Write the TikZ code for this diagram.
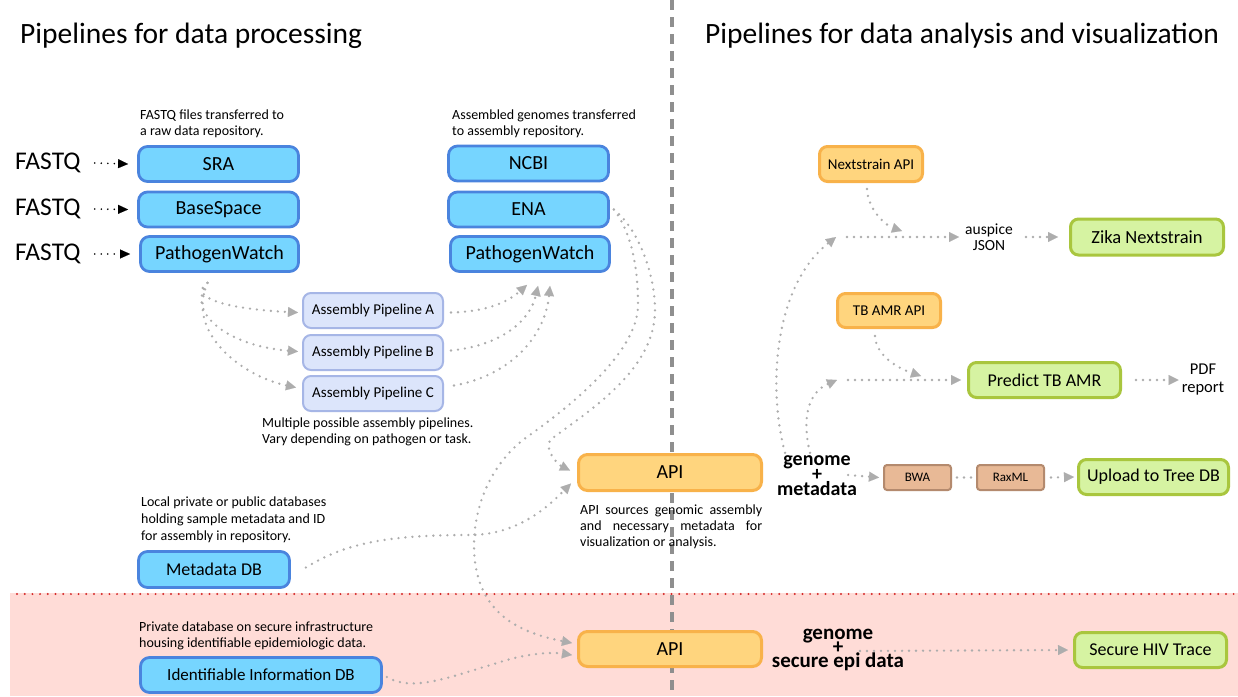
\documentclass[tikz,border=0pt]{standalone}
\usepackage{fontspec}
\setmainfont{Carlito}
\usetikzlibrary{arrows.meta}
\definecolor{bluefill}{HTML}{76D5FF}
\definecolor{blueline}{HTML}{4A84DE}
\definecolor{lavfill}{HTML}{DCE5FB}
\definecolor{lavline}{HTML}{A6B6E6}
\definecolor{orfill}{HTML}{FFD57E}
\definecolor{orline}{HTML}{F8B24A}
\definecolor{grfill}{HTML}{D6F3A2}
\definecolor{grline}{HTML}{A9C63E}
\definecolor{brfill}{HTML}{E8B996}
\definecolor{brline}{HTML}{B48A6E}
\definecolor{dotgray}{HTML}{ADADAD}
\definecolor{pinkbg}{HTML}{FFDCD7}
\definecolor{reddot}{HTML}{D42A2A}
\definecolor{divgray}{HTML}{8F8F8F}
\begin{document}
\begin{tikzpicture}[x=1pt,y=-1pt,
  box/.style={rounded corners=9pt, inner sep=0pt, align=center},
  bluebox/.style={box, draw=blueline, fill=bluefill, line width=2.8pt, minimum width=160pt, minimum height=35pt, font=\fontsize{20}{24}\selectfont},
  lavbox/.style={box, draw=lavline, fill=lavfill, line width=2pt, minimum width=140pt, minimum height=35pt, rounded corners=8pt, font=\fontsize{15}{18}\selectfont},
  orbox/.style={box, draw=orline, fill=orfill, line width=3pt},
  grbox/.style={box, draw=grline, fill=grfill, line width=3pt, minimum width=152pt, minimum height=35pt, rounded corners=8pt, font=\fontsize{18.5}{22}\selectfont},
  brbox/.style={box, draw=brline, fill=brfill, line width=2pt, minimum width=67pt, minimum height=25pt, rounded corners=3pt, font=\fontsize{13}{16}\selectfont},
  conn/.style={draw=dotgray, line width=2.6pt, line cap=round, dash pattern=on 0pt off 7pt, -{Triangle[width=10pt,length=10pt,line width=0.1pt]}},
  connplain/.style={draw=dotgray, line width=2.6pt, line cap=round, dash pattern=on 0pt off 7pt},
  blkarrow/.style={draw=black, line width=1.8pt, line cap=round, dash pattern=on 0pt off 6.5pt, -{Triangle[width=9pt,length=10pt,line width=0.1pt]}},
  captxt/.style={anchor=north west, inner sep=0pt, align=left, font=\fontsize{14}{16}\selectfont},
  fq/.style={anchor=west, inner sep=0pt, font=\fontsize{25.5}{28}\selectfont},
  lbl/.style={inner sep=2pt, align=center, font=\fontsize{15.5}{16}\selectfont},
  boldlbl/.style={inner sep=0pt, align=center},
  ttl/.style={anchor=base west, inner sep=0pt, font=\fontsize{29.5}{34}\selectfont}
]
\useasboundingbox (0,0) rectangle (1238,696);
\fill[white] (0,0) rectangle (1238,696);
\fill[pinkbg] (10,593) rectangle (1238,696);
\draw[reddot, line width=2.2pt, line cap=round, dash pattern=on 0pt off 7.7pt] (17,594) -- (1238,594);
\draw[divgray, line width=4.5pt, dash pattern=on 10pt off 7pt] (672,0) -- (672,696);

% titles
\node[ttl] (t1) at (20,43) {Pipelines for data processing};
\node[ttl] (t2) at (705,43) {Pipelines for data analysis and visualization};

% FASTQ inputs
\node[fq] (fq1) at (15,163) {FASTQ};
\node[fq] (fq2) at (15,209) {FASTQ};
\node[fq] (fq3) at (15,254) {FASTQ};

% raw repositories
\node[bluebox] (sra) at (218.5,164) {SRA};
\node[bluebox] (bs) at (218.5,209.5) {BaseSpace};
\node[bluebox, minimum width=158pt] (pwl) at (219.5,254) {PathogenWatch};
\node[bluebox] (ncbi) at (528.5,163.5) {NCBI};
\node[bluebox] (ena) at (528.5,209.5) {ENA};
\node[bluebox, minimum width=159pt] (pwr) at (530,254) {PathogenWatch};
\node[bluebox, minimum width=151pt, minimum height=36pt, font=\fontsize{18}{22}\selectfont] (meta) at (214,569.5) {Metadata DB};
\node[bluebox, minimum width=241pt, font=\fontsize{17}{20}\selectfont] (iid) at (261,675) {Identifiable Information DB};

% captions
\node[captxt] (c1) at (140,110) {FASTQ files transferred to\\a raw data repository.};
\node[captxt] (c2) at (452,110) {Assembled genomes transferred\\to assembly repository.};
\node[captxt] (c3) at (262,418) {Multiple possible assembly pipelines.\\Vary depending on pathogen or task.};
\node[captxt, font=\fontsize{14}{17}\selectfont] (c4) at (141,497) {Local private or public databases\\holding sample metadata and ID\\for assembly in repository.};
\node[captxt] (c5) at (139,622) {Private database on secure infrastructure\\housing identifiable epidemiologic data.};
\node[captxt, font=\fontsize{14}{15.8}\selectfont] (c6) at (580,505) {\makebox[182pt][s]{API sources genomic assembly}\\\makebox[182pt][s]{and necessary metadata for}\\visualization or analysis.};

% assembly pipelines
\node[lavbox] (pa) at (373,310.5) {Assembly Pipeline A};
\node[lavbox] (pb) at (373,352.5) {Assembly Pipeline B};
\node[lavbox] (pc) at (373,393.5) {Assembly Pipeline C};

% APIs
\node[orbox, minimum width=183pt, minimum height=36pt, font=\fontsize{20}{24}\selectfont] (api) at (670,472.5) {API};
\node[orbox, minimum width=183pt, minimum height=35pt, font=\fontsize{20}{24}\selectfont] (apis) at (670,649) {API};
\node[orbox, minimum width=103pt, minimum height=35pt, rounded corners=8pt, font=\fontsize{15}{18}\selectfont] (nsapi) at (871,164) {Nextstrain API};
\node[orbox, minimum width=103pt, minimum height=34pt, rounded corners=8pt, font=\fontsize{15}{18}\selectfont] (tbapi) at (889,310.5) {TB AMR API};

% analysis outputs
\node[grbox, minimum width=153pt, minimum height=36pt] (zika) at (1147,237) {Zika Nextstrain};
\node[grbox, font=\fontsize{18}{22}\selectfont] (tbamr) at (1044.5,380) {Predict TB AMR};
\node[grbox, minimum width=150pt, font=\fontsize{18}{22}\selectfont] (tree) at (1153.5,477) {Upload to Tree DB};
\node[grbox, font=\fontsize{18}{22}\selectfont] (hiv) at (1150.5,650) {Secure HIV Trace};
\node[brbox] (bwa) at (917.5,477.5) {BWA};
\node[brbox] (rax) at (1010.5,477.5) {RaxML};

% labels
\node[lbl] (json) at (989,237) {auspice\\JSON};
\node[lbl, font=\fontsize{16.5}{18}\selectfont] (pdf) at (1203,380) {PDF\\report};
\node[boldlbl, font={\fontsize{20}{15}\bfseries\selectfont\lineskiplimit=-100pt}] (gm) at (817,476) {genome\\+\\metadata};
\node[boldlbl, font={\fontsize{21}{14}\bfseries\selectfont\lineskiplimit=-100pt}] (gs) at (838,650) {genome\\+\\secure epi data};

\coordinate (j1) at (836,237);
\coordinate (j2) at (837,380);
\coordinate (n1) at (902,231);
\coordinate (n2) at (921,376);

% FASTQ arrows
\draw[blkarrow] ([xshift=14pt]fq1.east) -- ([xshift=-9pt]sra.west);
\draw[blkarrow] ([xshift=14pt]fq2.east) -- ([xshift=-9pt]bs.west);
\draw[blkarrow] ([xshift=14pt]fq3.east) -- ([xshift=-9pt]pwl.west);

% raw -> pipelines
\draw[conn] ([xshift=-12pt,yshift=-10pt]pwl.south) .. controls +(-19,13) and +(-78,-4) .. ([xshift=-4pt,yshift=-2pt]pa.west);
\draw[conn] ([xshift=-12pt,yshift=-10pt]pwl.south) .. controls +(-22,28) and +(-73,-6) .. ([xshift=-4pt,yshift=1pt]pb.west);
\draw[conn] ([xshift=-12pt,yshift=-10pt]pwl.south) .. controls +(-22,48) and +(-56,-12) .. ([xshift=-6pt,yshift=6pt]pc.west);

% pipelines -> assembly repository
\draw[conn] ([xshift=7pt,yshift=-2pt]pa.east) .. controls +(40,-1) and +(-17,15) .. ([xshift=-3pt,yshift=-12pt]pwr.south);
\draw[conn] ([xshift=7pt,yshift=2pt]pb.east) .. controls +(50,-5) and +(-8,35) .. ([xshift=8pt,yshift=-13pt]pwr.south);
\draw[conn] ([xshift=10pt,yshift=8pt]pc.east) .. controls +(57,-10) and +(-5,50) .. ([xshift=20pt,yshift=-13pt]pwr.south);

% ENA -> APIs
\draw[conn] ([xshift=4pt]ena.east) .. controls +(25,20) and +(0,-35) .. (655,310) .. controls +(0,60) and +(40,-30) .. (550,440) .. controls +(-6,12) and +(-10,-5) .. ([xshift=-7pt,yshift=2pt]api.west);
\draw[conn] ([xshift=4pt]ena.east) .. controls +(15,20) and +(0,-45) .. (638,305) .. controls +(0,50) and +(35,-25) .. (527,437) .. controls +(-35,25) and +(0,-40) .. (474,545) .. controls +(0,70) and +(-50,-10) .. ([xshift=-5pt,yshift=6pt]apis.west);

% metadata -> API, identifiable -> secure API
\draw[conn] ([xshift=15pt,yshift=2pt]meta.east) .. controls +(40,-25) and +(-80,0) .. (470,535) .. controls +(50,0) and +(-20,20) .. ([xshift=-6pt,yshift=-11pt]api.west);
\draw[conn] ([xshift=4pt,yshift=-2pt]iid.east) .. controls +(25,15) and +(-50,15) .. (497,663) .. controls +(30,-10) and +(-20,-3) .. ([xshift=-5pt,yshift=-6pt]apis.west);

% right side
\draw[conn] ([xshift=-32pt,yshift=3pt]gm.north) .. controls +(-17,-63) and +(-63,50) .. (j1);
\draw[conn] ([xshift=-7pt,yshift=3pt]gm.north) .. controls +(-8,-32) and +(-30,13) .. (j2);
\draw[conn] ([xshift=-4pt,yshift=-6pt]nsapi.south) .. controls +(1,22) and +(-15,-5) .. (n1);
\draw[conn] ([xshift=-14pt,yshift=-7pt]tbapi.south) .. controls +(1,22) and +(-18,-6) .. (n2);
\draw[conn] ([xshift=11pt]j1) -- ([xshift=-4pt]json.west);
\draw[conn] ([xshift=11pt]json.east) -- ([xshift=-11pt]zika.west);
\draw[conn] ([xshift=11pt]j2) -- ([xshift=-6pt]tbamr.west);
\draw[conn] ([xshift=14pt]tbamr.east) -- ([xshift=-1pt]pdf.west);
\draw[conn] ([xshift=-9pt,yshift=1pt]gm.east) -- ([xshift=-4pt]bwa.west);
\draw[connplain] ([xshift=5pt]bwa.east) -- ([xshift=-5pt]rax.west);
\draw[conn] ([xshift=6pt]rax.east) -- ([xshift=-3pt]tree.west);
\draw[conn] ([xshift=22pt,yshift=-1pt]gs.center) -- ([xshift=-5pt]hiv.west);
\end{tikzpicture}
\end{document}
